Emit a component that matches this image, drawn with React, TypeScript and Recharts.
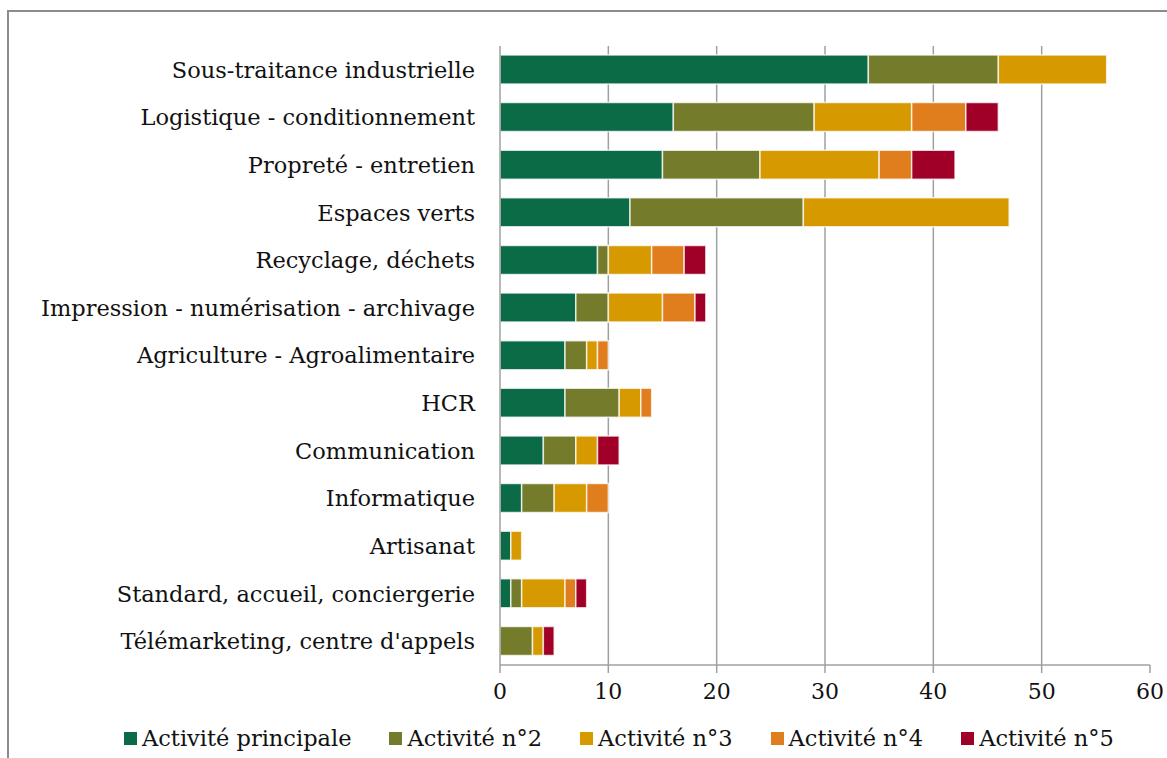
import { BarChart, Bar, XAxis, YAxis, CartesianGrid, Legend } from "recharts";

const categories = [
  "Sous-traitance industrielle",
  "Logistique - conditionnement",
  "Propreté - entretien",
  "Espaces verts",
  "Recyclage, déchets",
  "Impression - numérisation - archivage",
  "Agriculture - Agroalimentaire",
  "HCR",
  "Communication",
  "Informatique",
  "Artisanat",
  "Standard, accueil, conciergerie",
  "Télémarketing, centre d'appels",
];

const principale = [34, 16, 15, 12, 9, 7, 6, 6, 4, 2, 1, 1, 0];
const activite2 = [12, 13, 9, 16, 1, 3, 2, 5, 3, 3, 0, 1, 3];
const activite3 = [10, 9, 11, 19, 4, 5, 1, 2, 2, 3, 1, 4, 1];
const activite4 = [0, 5, 3, 0, 3, 3, 1, 1, 0, 2, 0, 1, 0];
const activite5 = [0, 3, 4, 0, 2, 1, 0, 0, 2, 0, 0, 1, 1];

const xTicks = [0, 10, 20, 30, 40, 50, 60];

const series = [
  { key: "p", name: "Activité principale", values: principale, color: "#0B6B47" },
  { key: "a2", name: "Activité n°2", values: activite2, color: "#747B2A" },
  { key: "a3", name: "Activité n°3", values: activite3, color: "#D69A00" },
  { key: "a4", name: "Activité n°4", values: activite4, color: "#E07D1C" },
  { key: "a5", name: "Activité n°5", values: activite5, color: "#A00028" },
];

const data = categories.map((c, i) => {
  const row: Record<string, string | number> = { name: c };
  series.forEach((s) => (row[s.key] = s.values[i]));
  return row;
});

const FONT = "'DejaVu Serif', serif";

function LegendRow() {
  return (
    <div
      style={{
        display: "flex",
        whiteSpace: "nowrap",
        width: 1159,
        paddingLeft: 116,
        boxSizing: "border-box",
        fontFamily: FONT,
        fontSize: 22.5,
        color: "#111",
      }}
    >
      {series.map((s) => (
        <div key={s.key} style={{ display: "flex", flexShrink: 0, alignItems: "center", marginRight: 38 }}>
          <span style={{ width: 13, height: 13, background: s.color, marginRight: 5, display: "inline-block" }} />
          {s.name}
        </div>
      ))}
    </div>
  );
}

export default function App() {
  return (
    <div style={{ position: "fixed", left: 0, top: 0, width: 1167, height: 758, overflow: "hidden", background: "#fff" }}>
      <div
        style={{
          position: "absolute",
          left: 7,
          top: 10,
          width: 1180,
          height: 770,
          borderTop: "2px solid #8c8c8c",
          borderLeft: "2px solid #8c8c8c",
        }}
      />
      <div style={{ position: "absolute", left: 8, top: 8 }}>
        <BarChart
          width={1159}
          height={750}
          data={data}
          layout="vertical"
          barSize={29}
          margin={{ top: 38, right: 17, left: 0, bottom: 3 }}
        >
          <CartesianGrid horizontal={false} verticalValues={[10, 20, 30, 40, 50]} stroke="#a0a0a0" strokeWidth={1.5} />
          <XAxis
            type="number"
            domain={[0, 60]}
            ticks={xTicks}
            interval={0}
            height={60}
            stroke="#a0a0a0"
            strokeWidth={1.5}
            tickSize={8}
            tickMargin={10}
            tick={{ fill: "#111", fontFamily: FONT, fontSize: 22 }}
          />
          <YAxis
            type="category"
            dataKey="name"
            width={492}
            interval={0}
            tickLine={false}
            tickSize={0}
            tickMargin={25}
            stroke="#a0a0a0"
            strokeWidth={1.5}
            tick={{ fill: "#111", fontFamily: FONT, fontSize: 22.5 }}
          />
          <Legend
            verticalAlign="bottom"
            height={30}
            wrapperStyle={{ left: 0, width: 1159 }}
            content={() => <LegendRow />}
          />
          {series.map((s) => (
            <Bar
              key={s.key}
              dataKey={s.key}
              name={s.name}
              stackId="a"
              fill={s.color}
              stroke="rgba(255,255,255,0.75)"
              strokeWidth={1.5}
              isAnimationActive={false}
            />
          ))}
        </BarChart>
      </div>
    </div>
  );
}
